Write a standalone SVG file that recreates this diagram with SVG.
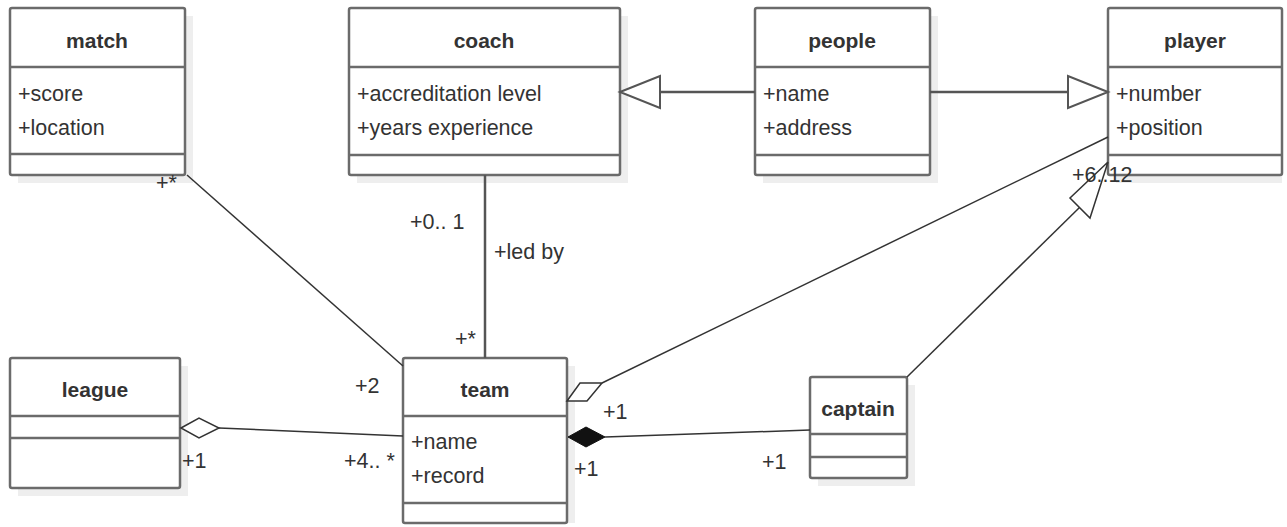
<svg xmlns="http://www.w3.org/2000/svg" width="1287" height="527" viewBox="0 0 1287 527">
<defs>
<style>
.box{fill:#fff;stroke:#6b6b6b;stroke-width:2.5}
.sh{fill:#eeeeee}
.div{stroke:#6b6b6b;stroke-width:2.5}
.t{font-family:"Liberation Sans",Arial,sans-serif;font-size:21px;font-weight:bold;fill:#333;text-anchor:middle}
.a{font-family:"Liberation Sans",Arial,sans-serif;font-size:21.5px;fill:#333}
.l{font-family:"Liberation Sans",Arial,sans-serif;font-size:21.5px;fill:#333}
.c{stroke:#333;stroke-width:1.5;fill:none}
.g{stroke:#555;stroke-width:2.5;fill:none}
</style>
</defs>
<rect width="1287" height="527" fill="#fff"/>
<g id="match">
<rect class="sh" x="18" y="16" width="175" height="167"/>
<rect class="box" x="10" y="8" width="175" height="167" rx="2"/>
<line class="div" x1="10" y1="67" x2="185" y2="67"/>
<line class="div" x1="10" y1="154" x2="185" y2="154"/>
<text class="t" x="97" y="48">match</text>
<text class="a" x="18" y="101">+score</text>
<text class="a" x="18" y="135">+location</text>
</g>
<g id="coach">
<rect class="sh" x="357" y="16" width="271" height="167"/>
<rect class="box" x="349" y="8" width="271" height="167" rx="2"/>
<line class="div" x1="349" y1="67" x2="620" y2="67"/>
<line class="div" x1="349" y1="155" x2="620" y2="155"/>
<text class="t" x="484" y="48">coach</text>
<text class="a" x="357" y="101">+accreditation level</text>
<text class="a" x="357" y="135">+years experience</text>
</g>
<g id="people">
<rect class="sh" x="763" y="16" width="175" height="167"/>
<rect class="box" x="755" y="8" width="175" height="167" rx="2"/>
<line class="div" x1="755" y1="67" x2="930" y2="67"/>
<line class="div" x1="755" y1="155" x2="930" y2="155"/>
<text class="t" x="842" y="48">people</text>
<text class="a" x="763" y="101">+name</text>
<text class="a" x="763" y="135">+address</text>
</g>
<g id="player">
<rect class="sh" x="1116" y="16" width="166" height="167"/>
<rect class="box" x="1108" y="8" width="174" height="167" rx="2"/>
<line class="div" x1="1108" y1="67" x2="1282" y2="67"/>
<line class="div" x1="1108" y1="155" x2="1282" y2="155"/>
<text class="t" x="1195" y="48">player</text>
<text class="a" x="1116" y="101">+number</text>
<text class="a" x="1116" y="135">+position</text>
</g>
<g id="league">
<rect class="sh" x="18" y="366" width="170" height="130"/>
<rect class="box" x="10" y="358" width="170" height="130" rx="2"/>
<line class="div" x1="10" y1="416" x2="180" y2="416"/>
<line class="div" x1="10" y1="438" x2="180" y2="438"/>
<text class="t" x="95" y="397">league</text>
</g>
<g id="team">
<rect class="sh" x="411" y="366" width="164" height="157"/>
<rect class="box" x="403" y="358" width="164" height="165" rx="2"/>
<line class="div" x1="403" y1="416" x2="567" y2="416"/>
<line class="div" x1="403" y1="503" x2="567" y2="503"/>
<text class="t" x="485" y="397">team</text>
<text class="a" x="411" y="449">+name</text>
<text class="a" x="411" y="483">+record</text>
</g>
<g id="captain">
<rect class="sh" x="818" y="385" width="97" height="101"/>
<rect class="box" x="810" y="377" width="97" height="101" rx="2"/>
<line class="div" x1="810" y1="434" x2="907" y2="434"/>
<line class="div" x1="810" y1="457" x2="907" y2="457"/>
<text class="t" x="858" y="416">captain</text>
</g>
<g id="connectors">
<line class="c" x1="187" y1="175" x2="403" y2="366"/>
<line class="g" x1="485" y1="175" x2="485" y2="358"/>
<line class="g" x1="660" y1="92" x2="755" y2="92"/>
<polygon points="620,92 660,76 660,108" fill="#fff" stroke="#555" stroke-width="2"/>
<line class="g" x1="930" y1="92" x2="1068" y2="92"/>
<polygon points="1108,92 1068,76 1068,108" fill="#fff" stroke="#555" stroke-width="2"/>
<line class="c" x1="602" y1="383" x2="1108" y2="137"/>
<polygon points="567,401 580,383 602,383 587,401" fill="#fff" stroke="#333" stroke-width="1.5"/>
<line class="c" x1="907" y1="377" x2="1080" y2="207"/>
<polygon points="1108,162 1070,198 1090,218" fill="#fff" stroke="#333" stroke-width="1.5"/>
<line class="c" x1="219" y1="428" x2="403" y2="436"/>
<polygon points="181,428 199,418 219,428 199,438" fill="#fff" stroke="#333" stroke-width="1.5"/>
<line class="c" x1="605" y1="437" x2="810" y2="430"/>
<polygon points="568,437 586,427 605,437 586,447" fill="#111" stroke="#111" stroke-width="1"/>
</g>
<g id="labels">
<text class="l" x="156" y="190">+*</text>
<text class="l" x="410" y="229">+0.. 1</text>
<text class="l" x="494" y="259">+led by</text>
<text class="l" x="455" y="346">+*</text>
<text class="l" x="355" y="393">+2</text>
<text class="l" x="344" y="468">+4.. *</text>
<text class="l" x="182" y="468">+1</text>
<text class="l" x="603" y="419">+1</text>
<text class="l" x="574" y="476">+1</text>
<text class="l" x="762" y="469">+1</text>
<text class="l" x="1072" y="182">+6..12</text>
</g>
</svg>
